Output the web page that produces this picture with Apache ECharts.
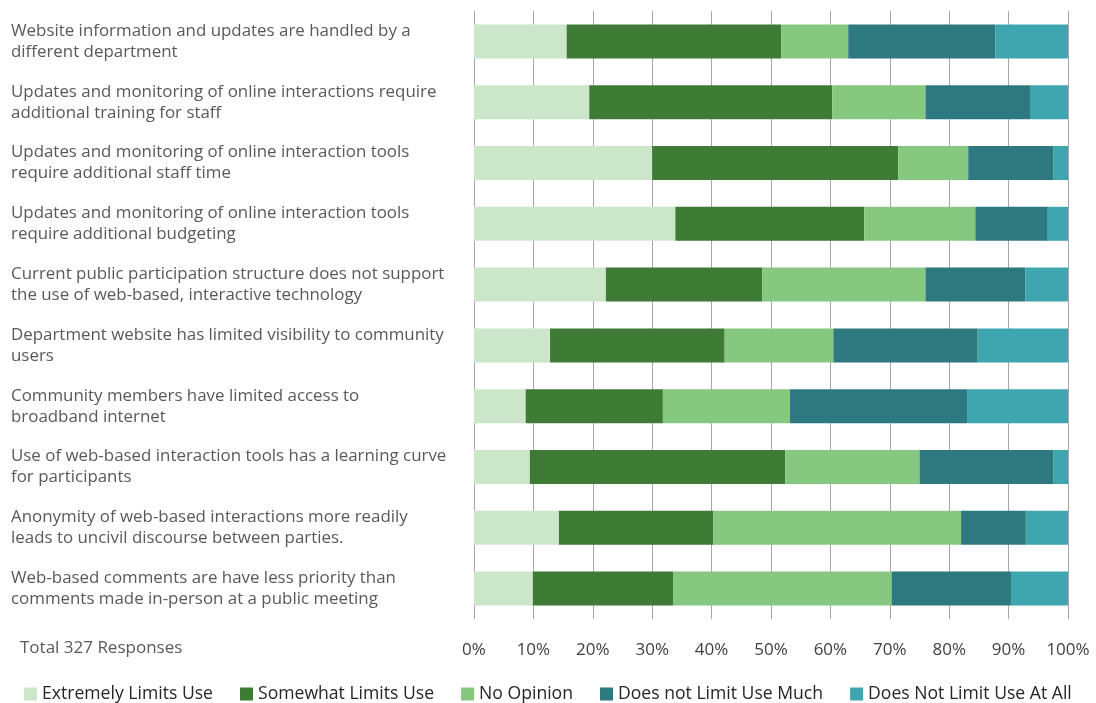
<!DOCTYPE html>
<html>
<head>
<meta charset="utf-8">
<title>Barriers to web-based public participation</title>
<script src="https://cdn.jsdelivr.net/npm/echarts@6/dist/echarts.min.js"></script>
<style>
  html, body { margin: 0; padding: 0; background: #ffffff; }
  #chart { width: 1096px; height: 703px; }
</style>
</head>
<body>
<div id="chart"></div>
<script>
// Survey statements (top to bottom)
const categories = [
  'Website information and updates are handled by a\ndifferent department',
  'Updates and monitoring of online interactions require\nadditional training for staff',
  'Updates and monitoring of online interaction tools\nrequire additional staff time',
  'Updates and monitoring of online interaction tools\nrequire additional budgeting',
  'Current public participation structure does not support\nthe use of web-based, interactive technology',
  'Department website has limited visibility to community\nusers',
  'Community members have limited access to\nbroadband internet',
  'Use of web-based interaction tools has a learning curve\nfor participants',
  'Anonymity of web-based interactions more readily\nleads to uncivil discourse between parties.',
  'Web-based comments are have less priority than\ncomments made in-person at a public meeting'
];

// Share of responses (%) per answer, same order as categories
const extremelyLimits   = [15.6, 19.4, 30.0, 33.9, 22.2, 12.8,  8.7,  9.4, 14.3,  9.9];
const somewhatLimits    = [36.1, 40.9, 41.4, 31.8, 26.3, 29.4, 23.1, 43.0, 26.0, 23.6];
const noOpinion         = [11.3, 15.7, 11.8, 18.7, 27.5, 18.3, 21.4, 22.6, 41.7, 36.8];
const notLimitMuch      = [24.8, 17.6, 14.3, 12.2, 16.8, 24.3, 29.8, 22.5, 10.9, 20.1];
const notLimitAtAll     = [12.2,  6.4,  2.5,  3.4,  7.2, 15.2, 17.0,  2.5,  7.1,  9.6];

const seriesNames = [
  'Extremely Limits Use',
  'Somewhat Limits Use',
  'No Opinion',
  'Does not Limit Use Much',
  'Does Not Limit Use At All'
];
const seriesValues = [extremelyLimits, somewhatLimits, noOpinion, notLimitMuch, notLimitAtAll];
const seriesColors = ['#cbe6c8', '#3e7b35', '#86c87f', '#2e7880', '#3fa6b0'];

const totalNote = 'Total 327 Responses';

const chart = echarts.init(document.getElementById('chart'), null, { renderer: 'canvas' });

chart.setOption({
  animation: false,
  backgroundColor: '#ffffff',
  textStyle: { fontFamily: '"Open Sans", sans-serif' },
  grid: { left: 474, right: 28, top: 11, bottom: 84, containLabel: false },
  legend: {
    data: seriesNames,
    left: 19,
    top: 680,
    itemWidth: 13,
    itemHeight: 13,
    itemGap: 27,
    icon: 'rect',
    selectedMode: false,
    textStyle: { color: '#262626', fontSize: 17.6, fontFamily: '"Open Sans", sans-serif' }
  },
  xAxis: {
    type: 'value',
    min: 0,
    max: 100,
    interval: 10,
    axisLine: { show: false },
    axisTick: { show: false },
    splitLine: { show: true, lineStyle: { color: '#a8a8a8', width: 1 } },
    axisLabel: {
      formatter: '{value}%',
      color: '#404040',
      fontSize: 17,
      margin: 23,
      fontFamily: '"Open Sans", sans-serif'
    }
  },
  yAxis: {
    type: 'category',
    inverse: true,
    data: categories,
    axisLine: { show: false },
    axisTick: { show: false },
    axisLabel: {
      align: 'left',
      margin: 463,
      color: '#595959',
      fontSize: 16.9,
      lineHeight: 21,
      padding: [5, 0, 0, 0],
      fontFamily: '"Open Sans", sans-serif'
    }
  },
  graphic: [{
    type: 'text',
    left: 20,
    top: 640,
    style: {
      text: totalNote,
      fill: '#595959',
      font: '17px "Open Sans", sans-serif'
    }
  }],
  series: seriesNames.map((name, i) => ({
    name: name,
    type: 'bar',
    stack: 'total',
    barWidth: 34,
    itemStyle: { color: seriesColors[i] },
    emphasis: { disabled: true },
    data: seriesValues[i]
  }))
});
</script>
</body>
</html>
